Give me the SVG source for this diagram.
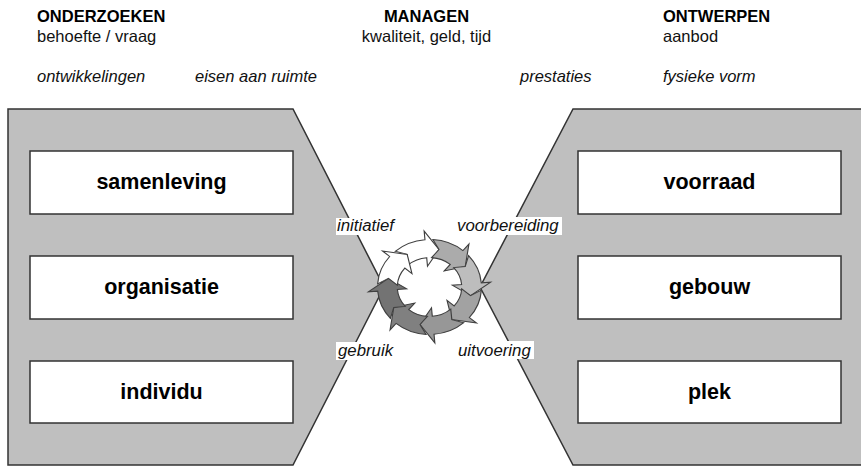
<svg xmlns="http://www.w3.org/2000/svg" xmlns:xlink="http://www.w3.org/1999/xlink" width="861" height="467" viewBox="0 0 861 467">
  <style>
    .shape { fill: #bfbfbf; stroke: #333; stroke-width: 1.5; stroke-linejoin: miter; }
    .box { fill: #fff; stroke: #333; stroke-width: 1.5; }
    .boxtxt { font-family: "Liberation Sans", Arial, sans-serif; font-weight: bold; font-size: 21.5px; fill: #000; text-anchor: middle; }
    .head { font-family: "Liberation Sans", Arial, sans-serif; font-weight: bold; font-size: 16.5px; fill: #000; }
    .sub { font-family: "Liberation Sans", Arial, sans-serif; font-size: 16.5px; fill: #111; }
    .it { font-family: "Liberation Sans", Arial, sans-serif; font-style: italic; font-size: 16.5px; fill: #111; }
    .lbl { font-family: "Liberation Sans", Arial, sans-serif; font-style: italic; font-size: 16.8px; fill: #111; }
    .lblbg { fill: #fff; stroke: none; }
    .arrow { stroke: #404040; stroke-width: 1.1; stroke-linejoin: miter; }
  </style>
  <defs>
    <path id="arr" d="M -32.97,-37.59 A 50 50 0 0 1 -4.36,-49.81 L -5.14,-58.78 L 9.11,-39.46 L -1.92,-21.92 L -2.70,-30.88 A 31 31 0 0 0 -20.44,-23.31 L -21.46,-34.35 Z"/>
  </defs>

  <rect x="0" y="0" width="861" height="467" fill="#fff"/>

  <!-- header texts -->
  <g id="headers">
    <text class="head" x="37" y="22">ONDERZOEKEN</text>
    <text class="sub" x="37" y="42">behoefte / vraag</text>
    <text class="head" x="426.5" y="22" text-anchor="middle">MANAGEN</text>
    <text class="sub" x="426.5" y="42" text-anchor="middle">kwaliteit, geld, tijd</text>
    <text class="head" x="663" y="22">ONTWERPEN</text>
    <text class="sub" x="663" y="42">aanbod</text>
    <text class="it" x="37" y="82">ontwikkelingen</text>
    <text class="it" x="195" y="82">eisen aan ruimte</text>
    <text class="it" x="520" y="82">prestaties</text>
    <text class="it" x="663" y="82">fysieke vorm</text>
  </g>

  <!-- big shapes -->
  <g id="left-panel">
    <polygon class="shape" points="8,109 293,109 384,287 293,465 8,465"/>
  </g>
  <g id="right-panel">
    <polygon class="shape" points="573,109 872,109 872,465 573,465 480,287"/>
  </g>

  <!-- boxes -->
  <g id="samenleving">
    <rect class="box" x="30" y="151" width="263" height="63"/>
    <text class="boxtxt" x="161.5" y="189">samenleving</text>
  </g>
  <g id="organisatie">
    <rect class="box" x="30" y="256" width="263" height="63"/>
    <text class="boxtxt" x="161.5" y="294">organisatie</text>
  </g>
  <g id="individu">
    <rect class="box" x="30" y="361" width="263" height="62"/>
    <text class="boxtxt" x="161.5" y="399">individu</text>
  </g>
  <g id="voorraad">
    <rect class="box" x="578" y="151" width="263" height="63"/>
    <text class="boxtxt" x="709.5" y="189">voorraad</text>
  </g>
  <g id="gebouw">
    <rect class="box" x="578" y="256" width="263" height="63"/>
    <text class="boxtxt" x="709.5" y="294">gebouw</text>
  </g>
  <g id="plek">
    <rect class="box" x="578" y="361" width="263" height="62"/>
    <text class="boxtxt" x="709.5" y="399">plek</text>
  </g>

  <!-- cycle of arrows -->
  <g id="connectors">
    <g id="cycle" transform="translate(429.5,287) scale(1.04,0.95)">
      <use xlink:href="#arr" href="#arr" class="arrow" fill="#ffffff" transform="rotate(0)"/>
      <use xlink:href="#arr" href="#arr" class="arrow" fill="#ababab" transform="rotate(45)"/>
      <use xlink:href="#arr" href="#arr" class="arrow" fill="#bdbdbd" transform="rotate(90)"/>
      <use xlink:href="#arr" href="#arr" class="arrow" fill="#a2a2a2" transform="rotate(135)"/>
      <use xlink:href="#arr" href="#arr" class="arrow" fill="#979797" transform="rotate(180)"/>
      <use xlink:href="#arr" href="#arr" class="arrow" fill="#808080" transform="rotate(225)"/>
      <use xlink:href="#arr" href="#arr" class="arrow" fill="#737373" transform="rotate(270)"/>
      <use xlink:href="#arr" href="#arr" class="arrow" fill="#ffffff" transform="rotate(315)"/>
    </g>
  </g>

  <!-- cycle labels -->
  <g id="label-initiatief">
    <rect class="lblbg" x="336" y="218" width="61" height="17"/>
    <text class="lbl" x="337" y="231">initiatief</text>
  </g>
  <g id="label-voorbereiding">
    <rect class="lblbg" x="455" y="217" width="107" height="18"/>
    <text class="lbl" x="457" y="231">voorbereiding</text>
  </g>
  <g id="label-gebruik">
    <rect class="lblbg" x="336" y="342" width="60" height="18"/>
    <text class="lbl" x="338" y="356">gebruik</text>
  </g>
  <g id="label-uitvoering">
    <rect class="lblbg" x="456" y="341" width="78" height="18"/>
    <text class="lbl" x="458" y="356">uitvoering</text>
  </g>
</svg>
